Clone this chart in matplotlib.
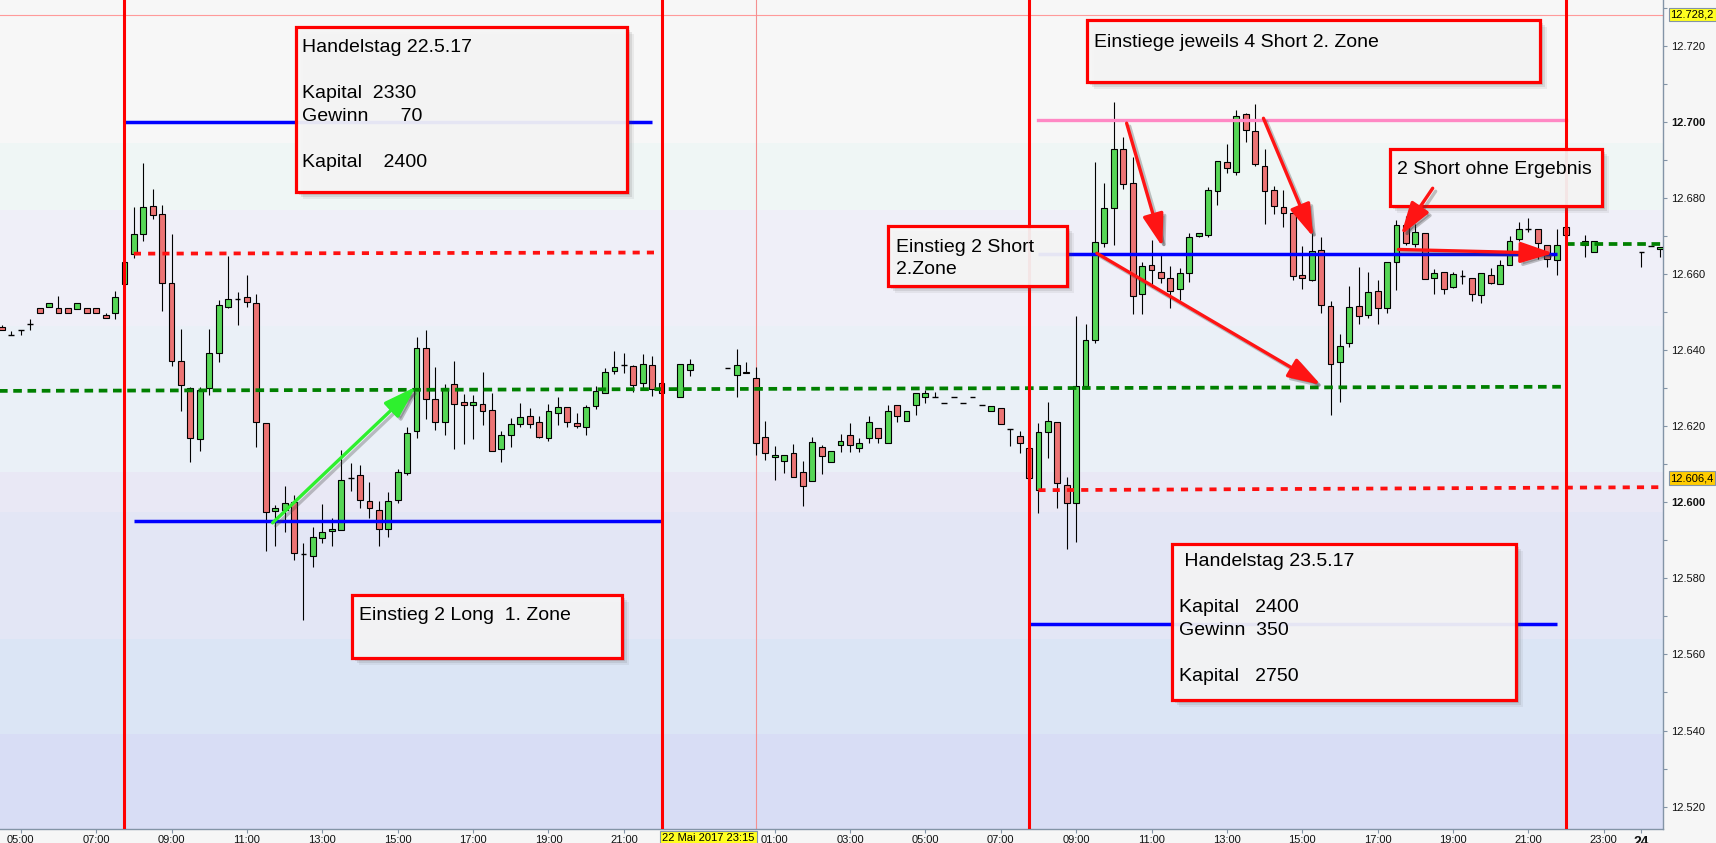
"""
DAX 15-minute candlestick chart for 22./23. May 2017 with trading notes.
"""

import matplotlib
matplotlib.use("Agg")
import matplotlib.pyplot as plt
import matplotlib.transforms as mtransforms
from matplotlib.patches import Rectangle, FancyArrowPatch

plt.rcParams['font.family'] = ['Liberation Sans', 'DejaVu Sans']

# 15-minute candles, "day hh:mm"
times = [
    "22 04:30", "22 04:45", "22 05:00", "22 05:15", "22 05:30", "22 05:45", "22 06:00", "22 06:15",
    "22 06:30", "22 06:45", "22 07:00", "22 07:15", "22 07:30", "22 07:45", "22 08:00", "22 08:15",
    "22 08:30", "22 08:45", "22 09:00", "22 09:15", "22 09:30", "22 09:45", "22 10:00", "22 10:15",
    "22 10:30", "22 10:45", "22 11:00", "22 11:15", "22 11:30", "22 11:45", "22 12:00", "22 12:15",
    "22 12:30", "22 12:45", "22 13:00", "22 13:15", "22 13:30", "22 13:45", "22 14:00", "22 14:15",
    "22 14:30", "22 14:45", "22 15:00", "22 15:15", "22 15:30", "22 15:45", "22 16:00", "22 16:15",
    "22 16:30", "22 16:45", "22 17:00", "22 17:15", "22 17:30", "22 17:45", "22 18:00", "22 18:15",
    "22 18:30", "22 18:45", "22 19:00", "22 19:15", "22 19:30", "22 19:45", "22 20:00", "22 20:15",
    "22 20:30", "22 20:45", "22 21:00", "22 21:15", "22 21:30", "22 21:45", "22 22:00", "22 22:30",
    "22 22:45", "22 23:45",
    "23 00:00", "23 00:15", "23 00:30", "23 00:45", "23 01:00", "23 01:15", "23 01:30", "23 01:45",
    "23 02:00", "23 02:15", "23 02:30", "23 02:45", "23 03:00", "23 03:15", "23 03:30", "23 03:45",
    "23 04:00", "23 04:15", "23 04:30", "23 04:45", "23 05:00", "23 05:15", "23 05:30", "23 05:45",
    "23 06:00", "23 06:15", "23 06:30", "23 06:45", "23 07:00", "23 07:15", "23 07:30", "23 07:45",
    "23 08:00", "23 08:15", "23 08:30", "23 08:45", "23 09:00", "23 09:15", "23 09:30", "23 09:45",
    "23 10:00", "23 10:15", "23 10:30", "23 10:45", "23 11:00", "23 11:15", "23 11:30", "23 11:45",
    "23 12:00", "23 12:15", "23 12:30", "23 12:45", "23 13:00", "23 13:15", "23 13:30", "23 13:45",
    "23 14:00", "23 14:15", "23 14:30", "23 14:45", "23 15:00", "23 15:15", "23 15:30", "23 15:45",
    "23 16:00", "23 16:15", "23 16:30", "23 16:45", "23 17:00", "23 17:15", "23 17:30", "23 17:45",
    "23 18:00", "23 18:15", "23 18:30", "23 18:45", "23 19:00", "23 19:15", "23 19:30", "23 19:45",
    "23 20:00", "23 20:15", "23 20:30", "23 20:45", "23 21:00", "23 21:15", "23 21:30", "23 21:45",
    "23 22:00", "23 22:30", "23 22:45",
    "24 00:00", "24 00:15", "24 00:30",
]

opens = [
    12646.0, 12644.0, 12645.2, 12646.9, 12651.2, 12651.4, 12651.2, 12651.2,
    12650.8, 12651.2, 12651.2, 12649.2, 12649.7, 12657.3, 12665.3, 12670.5,
    12678.0, 12675.7, 12657.6, 12637.1, 12630.2, 12616.6, 12630.0, 12639.4,
    12651.4, 12653.6, 12653.9, 12652.3, 12620.8, 12597.6, 12598.1, 12600.0,
    12586.4, 12585.8, 12590.5, 12592.4, 12592.7, 12606.5, 12607.1, 12600.3,
    12598.1, 12593.1, 12600.6, 12607.6, 12618.7, 12640.5, 12627.1, 12621.2,
    12631.0, 12626.3, 12625.5, 12625.8, 12624.2, 12614.1, 12617.8, 12620.7,
    12622.6, 12621.0, 12617.0, 12623.6, 12625.2, 12620.8, 12619.9, 12625.4,
    12628.8, 12634.6, 12636.0, 12635.8, 12631.3, 12636.0, 12631.3, 12627.6,
    12634.7, 12635.2,
    12633.6, 12634.4, 12632.6, 12617.1, 12611.8, 12610.8, 12613.1, 12607.9,
    12605.5, 12614.5, 12610.5, 12615.0, 12617.8, 12614.2, 12616.8, 12619.6,
    12615.5, 12625.6, 12621.3, 12625.5, 12627.6, 12627.8, 12626.0, 12627.6,
    12626.0, 12627.6, 12625.6, 12624.0, 12624.7, 12619.2, 12617.5, 12614.2,
    12603.2, 12618.5, 12621.2, 12604.6, 12599.7, 12630.6, 12642.7, 12668.3,
    12677.3, 12692.8, 12683.9, 12654.8, 12662.5, 12660.6, 12659.1, 12656.0,
    12660.4, 12670.0, 12670.4, 12681.8, 12689.5, 12686.8, 12702.1, 12697.7,
    12688.5, 12682.1, 12677.7, 12676.2, 12659.9, 12658.6, 12666.3, 12651.7,
    12636.8, 12641.8, 12651.7, 12649.2, 12655.5, 12651.0, 12663.1, 12672.9,
    12667.9, 12670.7, 12659.1, 12660.5, 12656.7, 12659.5, 12659.1, 12654.5,
    12659.9, 12657.4, 12662.4, 12669.2, 12671.9, 12671.8, 12667.8, 12663.7,
    12672.3, 12668.8, 12665.9,
    12665.9, 12667.4, 12666.5,
]

highs = [
    12646.6, 12645.1, 12645.2, 12648.3, 12651.2, 12652.5, 12654.2, 12651.2,
    12652.5, 12651.2, 12651.2, 12649.7, 12655.5, 12663.1, 12677.6, 12689.2,
    12682.3, 12678.2, 12670.5, 12645.6, 12630.4, 12630.4, 12645.6, 12653.2,
    12664.8, 12655.2, 12659.8, 12654.8, 12620.8, 12599.3, 12604.3, 12601.9,
    12589.4, 12593.4, 12599.5, 12596.0, 12613.7, 12610.4, 12609.8, 12605.4,
    12600.4, 12602.8, 12608.7, 12619.9, 12643.4, 12645.3, 12635.6, 12631.0,
    12637.2, 12628.5, 12628.2, 12634.3, 12628.7, 12618.8, 12622.1, 12626.0,
    12624.7, 12622.7, 12625.8, 12627.7, 12625.2, 12623.5, 12625.5, 12630.5,
    12635.3, 12639.8, 12639.3, 12636.0, 12639.0, 12638.5, 12631.3, 12636.3,
    12637.7, 12635.2,
    12640.3, 12636.9, 12635.6, 12621.4, 12614.8, 12612.4, 12615.3, 12610.9,
    12617.3, 12615.0, 12613.4, 12617.9, 12620.9, 12616.8, 12622.7, 12619.6,
    12625.6, 12625.6, 12624.1, 12628.8, 12629.5, 12629.1, 12626.0, 12627.6,
    12626.0, 12627.6, 12625.6, 12625.4, 12624.7, 12619.2, 12618.7, 12614.2,
    12620.8, 12626.3, 12621.2, 12606.6, 12649.0, 12646.8, 12689.6, 12684.1,
    12705.2, 12696.0, 12690.9, 12663.3, 12669.1, 12665.0, 12662.1, 12661.7,
    12670.7, 12670.9, 12683.0, 12689.7, 12694.2, 12703.3, 12702.4, 12704.7,
    12692.8, 12683.2, 12682.1, 12676.6, 12667.4, 12670.9, 12669.8, 12653.0,
    12644.4, 12656.9, 12661.9, 12660.5, 12658.6, 12663.1, 12674.2, 12675.3,
    12673.1, 12670.7, 12661.3, 12660.5, 12660.6, 12661.1, 12659.1, 12660.2,
    12661.5, 12663.7, 12670.0, 12673.6, 12674.8, 12671.8, 12667.8, 12671.8,
    12672.3, 12670.4, 12668.8,
    12665.9, 12667.4, 12667.2,
]

lows = [
    12645.2, 12644.0, 12644.0, 12645.3, 12649.8, 12651.4, 12649.8, 12649.8,
    12650.8, 12649.8, 12649.8, 12648.4, 12648.3, 12657.3, 12664.3, 12668.8,
    12674.4, 12650.4, 12635.9, 12624.1, 12610.7, 12613.6, 12628.2, 12637.0,
    12651.0, 12646.6, 12651.4, 12614.6, 12587.3, 12588.6, 12592.1, 12584.8,
    12569.0, 12583.1, 12589.2, 12588.6, 12592.7, 12603.1, 12598.6, 12596.0,
    12588.6, 12591.0, 12599.7, 12607.2, 12616.8, 12622.0, 12619.0, 12617.7,
    12614.0, 12615.3, 12616.7, 12620.3, 12613.6, 12610.6, 12614.6, 12619.9,
    12619.6, 12617.0, 12616.2, 12620.3, 12619.9, 12619.6, 12617.7, 12624.6,
    12628.8, 12633.7, 12634.1, 12629.1, 12630.2, 12628.0, 12628.8, 12627.6,
    12633.2, 12635.2,
    12627.8, 12633.9, 12612.5, 12611.1, 12605.9, 12607.8, 12606.6, 12599.1,
    12605.5, 12607.5, 12610.5, 12613.3, 12613.3, 12613.3, 12615.5, 12615.5,
    12615.5, 12621.2, 12621.3, 12622.9, 12626.0, 12627.8, 12626.0, 12627.6,
    12626.0, 12627.6, 12625.6, 12624.0, 12620.6, 12614.8, 12613.0, 12606.3,
    12597.3, 12611.6, 12598.6, 12587.6, 12589.6, 12629.7, 12641.8, 12667.2,
    12667.6, 12682.3, 12649.4, 12649.5, 12656.7, 12657.6, 12651.2, 12653.3,
    12658.0, 12669.8, 12669.8, 12678.2, 12686.5, 12686.2, 12694.7, 12688.4,
    12673.1, 12675.7, 12672.3, 12658.6, 12656.0, 12658.3, 12649.9, 12622.9,
    12626.3, 12640.9, 12646.8, 12648.4, 12646.8, 12649.9, 12655.8, 12667.6,
    12667.2, 12658.7, 12654.8, 12654.8, 12656.4, 12657.3, 12652.9, 12652.3,
    12657.4, 12657.4, 12662.4, 12668.8, 12671.0, 12664.1, 12661.8, 12659.7,
    12670.4, 12664.6, 12665.9,
    12661.8, 12667.4, 12664.4,
]

closes = [
    12645.2, 12644.0, 12645.2, 12646.9, 12649.8, 12652.5, 12649.8, 12649.8,
    12652.5, 12649.8, 12649.8, 12648.4, 12654.1, 12663.1, 12670.6, 12677.7,
    12675.5, 12657.6, 12637.2, 12630.8, 12616.8, 12629.6, 12639.2, 12651.8,
    12653.6, 12653.6, 12652.6, 12621.0, 12597.4, 12598.4, 12599.7, 12586.8,
    12586.4, 12590.8, 12592.1, 12593.1, 12606.0, 12606.5, 12600.6, 12598.6,
    12593.1, 12600.3, 12607.9, 12618.3, 12640.7, 12627.3, 12621.0, 12630.2,
    12625.9, 12625.7, 12626.3, 12624.1, 12613.6, 12617.6, 12620.5, 12622.4,
    12620.7, 12617.3, 12623.9, 12625.0, 12621.2, 12620.2, 12625.2, 12629.2,
    12634.2, 12635.5, 12636.0, 12630.9, 12636.3, 12629.7, 12628.8, 12636.3,
    12636.3, 12635.2,
    12636.0, 12633.9, 12615.5, 12613.1, 12612.4, 12612.4, 12606.6, 12604.2,
    12615.8, 12612.1, 12613.4, 12616.2, 12615.0, 12615.5, 12621.2, 12616.8,
    12624.1, 12622.7, 12624.1, 12628.8, 12628.8, 12627.8, 12626.0, 12627.6,
    12626.0, 12627.6, 12625.6, 12625.4, 12620.6, 12619.2, 12615.7, 12606.3,
    12618.5, 12621.4, 12605.0, 12599.7, 12630.6, 12642.8, 12668.5, 12677.3,
    12692.8, 12683.6, 12654.3, 12662.2, 12661.1, 12658.9, 12655.6, 12660.2,
    12669.7, 12670.7, 12682.1, 12689.7, 12687.8, 12701.7, 12697.9, 12689.1,
    12681.8, 12677.9, 12676.1, 12659.5, 12658.9, 12666.1, 12651.9, 12636.3,
    12641.2, 12651.4, 12649.0, 12655.2, 12651.2, 12663.1, 12672.9, 12668.1,
    12671.1, 12658.7, 12660.2, 12656.0, 12660.0, 12659.5, 12654.8, 12660.2,
    12657.6, 12662.4, 12668.8, 12671.8, 12672.3, 12668.1, 12663.9, 12667.8,
    12670.4, 12667.6, 12668.8,
    12665.9, 12667.4, 12667.2,
]

# session markers (red verticals) and the thin day separator
session_marks = ["22 07:45", "22 22:00", "23 07:45", "23 22:00"]
day_separator = "23 00:30"

# solid level lines: price, from, to
blue_prices = [12700.0, 12595.2, 12665.4, 12568.0]
blue_from = ["22 07:45", "22 08:00", "23 08:00", "23 07:45"]
blue_to = ["22 21:45", "22 22:00", "23 21:45", "23 21:45"]
pink_price = 12700.5
pink_from, pink_to = "23 08:00", "23 22:00"

# dotted zone lines: (price at start, price at end), from, to
red_dot_prices = [(12665.4, 12665.7), (12603.2, 12604.0)]
red_dot_from = ["22 08:00", "23 08:00"]
red_dot_to = ["22 22:00", "24 00:45"]
green_dot_prices = [(12629.3, 12630.4), (12668.0, 12668.0)]
green_dot_from = ["22 04:15", "23 22:00"]
green_dot_to = ["23 22:00", "24 00:45"]

last_price = 12728.2
marker_price = 12606.4

# arrows (hours since 22.05. 00:00, price)
green_arrow = ((11.68, 12594.6), (15.48, 12630.4))
red_arrow_tails = [(34.34, 12699.7), (33.55, 12665.5), (37.97, 12701.0), (42.46, 12682.6), (41.55, 12666.5)]
red_arrow_heads = [(35.29, 12667.2), (39.49, 12630.9), (39.29, 12669.8), (41.62, 12670.3), (45.66, 12665.5)]


def hours(s):
    day, hm = s.split()
    h, m = hm.split(':')
    return (int(day) - 22) * 24 + int(h) + int(m) / 60


W, H = 1716, 843
fig = plt.figure(figsize=(W / 100, H / 100), dpi=100, facecolor='#f6f6f6')
ax = fig.add_axes([0, 14 / H, 1663 / W, 829 / H])
ax.set_facecolor('#f7f7f7')
# image pixel coordinates (origin top-left) for notes
pix = mtransforms.Affine2D().scale(1 / W, -1 / H).translate(0, 1) + fig.transFigure

ax.set_xlim(4.448, 48.571)
ax.set_ylim(12514.1, 12732.1)

# background bands
band_edges = [12732.1, 12694.5, 12677.0, 12646.5, 12608.0, 12597.5, 12564.0, 12539.0, 12514.1]
band_colors = ['#f7f7f7', '#eff6f5', '#efeff8', '#eaf0f7', '#e9e8f5', '#e3e6f5', '#dbe5f5', '#d8ddf5']
for top, bottom, col in zip(band_edges[:-1], band_edges[1:], band_colors):
    ax.axhspan(bottom, top, color=col, lw=0, zorder=0)

ax.axhline(last_price, color='#ff9a9a', lw=0.8, zorder=1)
ax.axvline(hours(day_separator), color='#f49090', lw=0.8, zorder=1)

# candles
w = 0.155
for s, o, hi, lo, c in zip(times, opens, highs, lows, closes):
    t = hours(s)
    if hi > lo:
        ax.vlines(t, lo, hi, color='black', lw=0.8, zorder=3)
    if abs(c - o) < 0.4:
        ax.hlines(o, t - w / 2, t + w / 2, color='black', lw=1.0, zorder=4)
    else:
        col = '#56d656' if c > o else '#ec7474'
        ax.add_patch(Rectangle((t - w / 2, min(o, c)), w, abs(c - o),
                               facecolor=col, edgecolor='black', lw=0.8, zorder=4))

# level lines
for p, a, b in zip(blue_prices, blue_from, blue_to):
    ax.plot([hours(a), hours(b)], [p, p], color='#0000ff', lw=2.5, zorder=5, solid_capstyle='butt')
ax.plot([hours(pink_from), hours(pink_to)], [pink_price, pink_price], color='#ff88c4', lw=2.4, zorder=5)
for (p0, p1), a, b in zip(red_dot_prices, red_dot_from, red_dot_to):
    ax.plot([hours(a), hours(b)], [p0, p1], color='#ff1010', lw=2.7, ls=(0, (1.9, 1.9)), zorder=5)
for (p0, p1), a, b in zip(green_dot_prices, green_dot_from, green_dot_to):
    ax.plot([hours(a), hours(b)], [p0, p1], color='#008000', lw=2.7, ls=(0, (2.3, 1.5)), zorder=5)
for s in session_marks:
    ax.axvline(hours(s), color='#ff0000', lw=2.2, zorder=6)


# notes
def add_note(x0, y0, x1, y1, lines, tx, ty, step=23):
    for k, a in zip((7, 5, 3), (0.08, 0.12, 0.16)):
        ax.add_patch(Rectangle((x0 + k, y0 + k), x1 - x0, y1 - y0, transform=pix,
                               facecolor='#505050', alpha=a, lw=0, zorder=7, clip_on=False))
    ax.add_patch(Rectangle((x0, y0), x1 - x0, y1 - y0, transform=pix, facecolor='#f8f8f8',
                           alpha=0.92, edgecolor='none', zorder=8, clip_on=False))
    ax.add_patch(Rectangle((x0, y0), x1 - x0, y1 - y0, transform=pix, facecolor='none',
                           edgecolor='#ff0000', lw=2.3, zorder=9, clip_on=False))
    for i, line in enumerate(lines):
        if line:
            ax.text(tx, ty + i * step, line, transform=pix, fontsize=14, color='black',
                    ha='left', va='baseline', zorder=10)


add_note(296, 27, 627, 192,
         ["Handelstag 22.5.17", "", "Kapital  2330", "Gewinn      70", "", "Kapital    2400"],
         302, 52)
add_note(1087, 20, 1540, 82, ["Einstiege jeweils 4 Short 2. Zone"], 1094, 47)
add_note(1390, 149, 1602, 206, ["2 Short ohne Ergebnis"], 1397, 174)
add_note(888, 226, 1067, 286, ["Einstieg 2 Short", "2.Zone"], 896, 252, step=22.3)
add_note(352, 595, 622, 658, ["Einstieg 2 Long  1. Zone"], 359, 620)
add_note(1172, 544, 1516, 700,
         [" Handelstag 23.5.17", "", "Kapital   2400", "Gewinn  350", "", "Kapital   2750"],
         1179, 566)


# arrows with a soft shadow
def add_arrow(tail, head, color):
    style = '-|>,head_length=1.0,head_width=0.32'
    shadow = ax.transData + mtransforms.Affine2D().translate(3, -3)
    ax.add_patch(FancyArrowPatch(tail, head, arrowstyle=style, mutation_scale=20, lw=2.4,
                                 color='#404040', alpha=0.3, transform=shadow,
                                 shrinkA=0, shrinkB=0, zorder=11))
    ax.add_patch(FancyArrowPatch(tail, head, arrowstyle=style, mutation_scale=20, lw=2.4,
                                 color=color, shrinkA=0, shrinkB=0, zorder=12))


add_arrow(green_arrow[0], green_arrow[1], '#2ef02e')
for tail, head in zip(red_arrow_tails, red_arrow_heads):
    add_arrow(tail, head, '#ff1414')

# axes styling
for side in ('top', 'left'):
    ax.spines[side].set_visible(False)
for side in ('right', 'bottom'):
    ax.spines[side].set_color('#8394a6')
    ax.spines[side].set_linewidth(1.0)

ax.yaxis.tick_right()
yt = list(range(12520, 12721, 20))
ax.set_yticks(yt)
ax.set_yticklabels([f"{v / 1000:.3f}" for v in yt])
ax.set_yticks(list(range(12530, 12731, 20)), minor=True)
for v, lab in zip(yt, ax.get_yticklabels()):
    if v % 100 == 0:
        lab.set_fontweight('bold')
        lab.set_fontsize(8.5)
ax.tick_params(axis='y', which='both', direction='out', length=3, width=0.8,
               color='#8394a6', labelsize=8, pad=3, labelcolor='#111111')

xt = [5, 7, 9, 11, 13, 15, 17, 19, 21, 25, 27, 29, 31, 33, 35, 37, 39, 41, 43, 45, 47, 48]
xl = [f"{t % 24:02d}:00" for t in xt[:-1]] + ["24"]
ax.set_xticks(xt)
ax.set_xticklabels(xl)
ax.tick_params(axis='x', direction='out', length=3, width=0.8, color='#8394a6',
               labelsize=8, pad=1, labelcolor='#111111')
lab24 = ax.get_xticklabels()[-1]
lab24.set_fontweight('bold')
lab24.set_fontsize(10)

# price tags on the right axis
tag = mtransforms.blended_transform_factory(ax.transAxes, ax.transData)
ax.text(1.0045, last_price, "12.728,2", transform=tag, fontsize=8, va='center', ha='left',
        bbox=dict(boxstyle='square,pad=0.15', facecolor='#ffff20', edgecolor='#8394a6', lw=0.8),
        clip_on=False, zorder=12)
ax.text(1.0045, marker_price, "12.606,4", transform=tag, fontsize=8, va='center', ha='left',
        bbox=dict(boxstyle='square,pad=0.15', facecolor='#ffcc00', edgecolor='#8394a6', lw=0.8),
        clip_on=False, zorder=12)

# cursor date box on the time axis
cur = mtransforms.blended_transform_factory(ax.transData, ax.transAxes)
ax.text(23.25, -0.005, "22 Mai 2017 23:15", transform=cur, fontsize=8, va='top', ha='center',
        bbox=dict(boxstyle='square,pad=0.2', facecolor='#ffff20', edgecolor='#8394a6', lw=0.8),
        clip_on=False, zorder=12)

fig.savefig('out.png', dpi=100, facecolor=fig.get_facecolor())
